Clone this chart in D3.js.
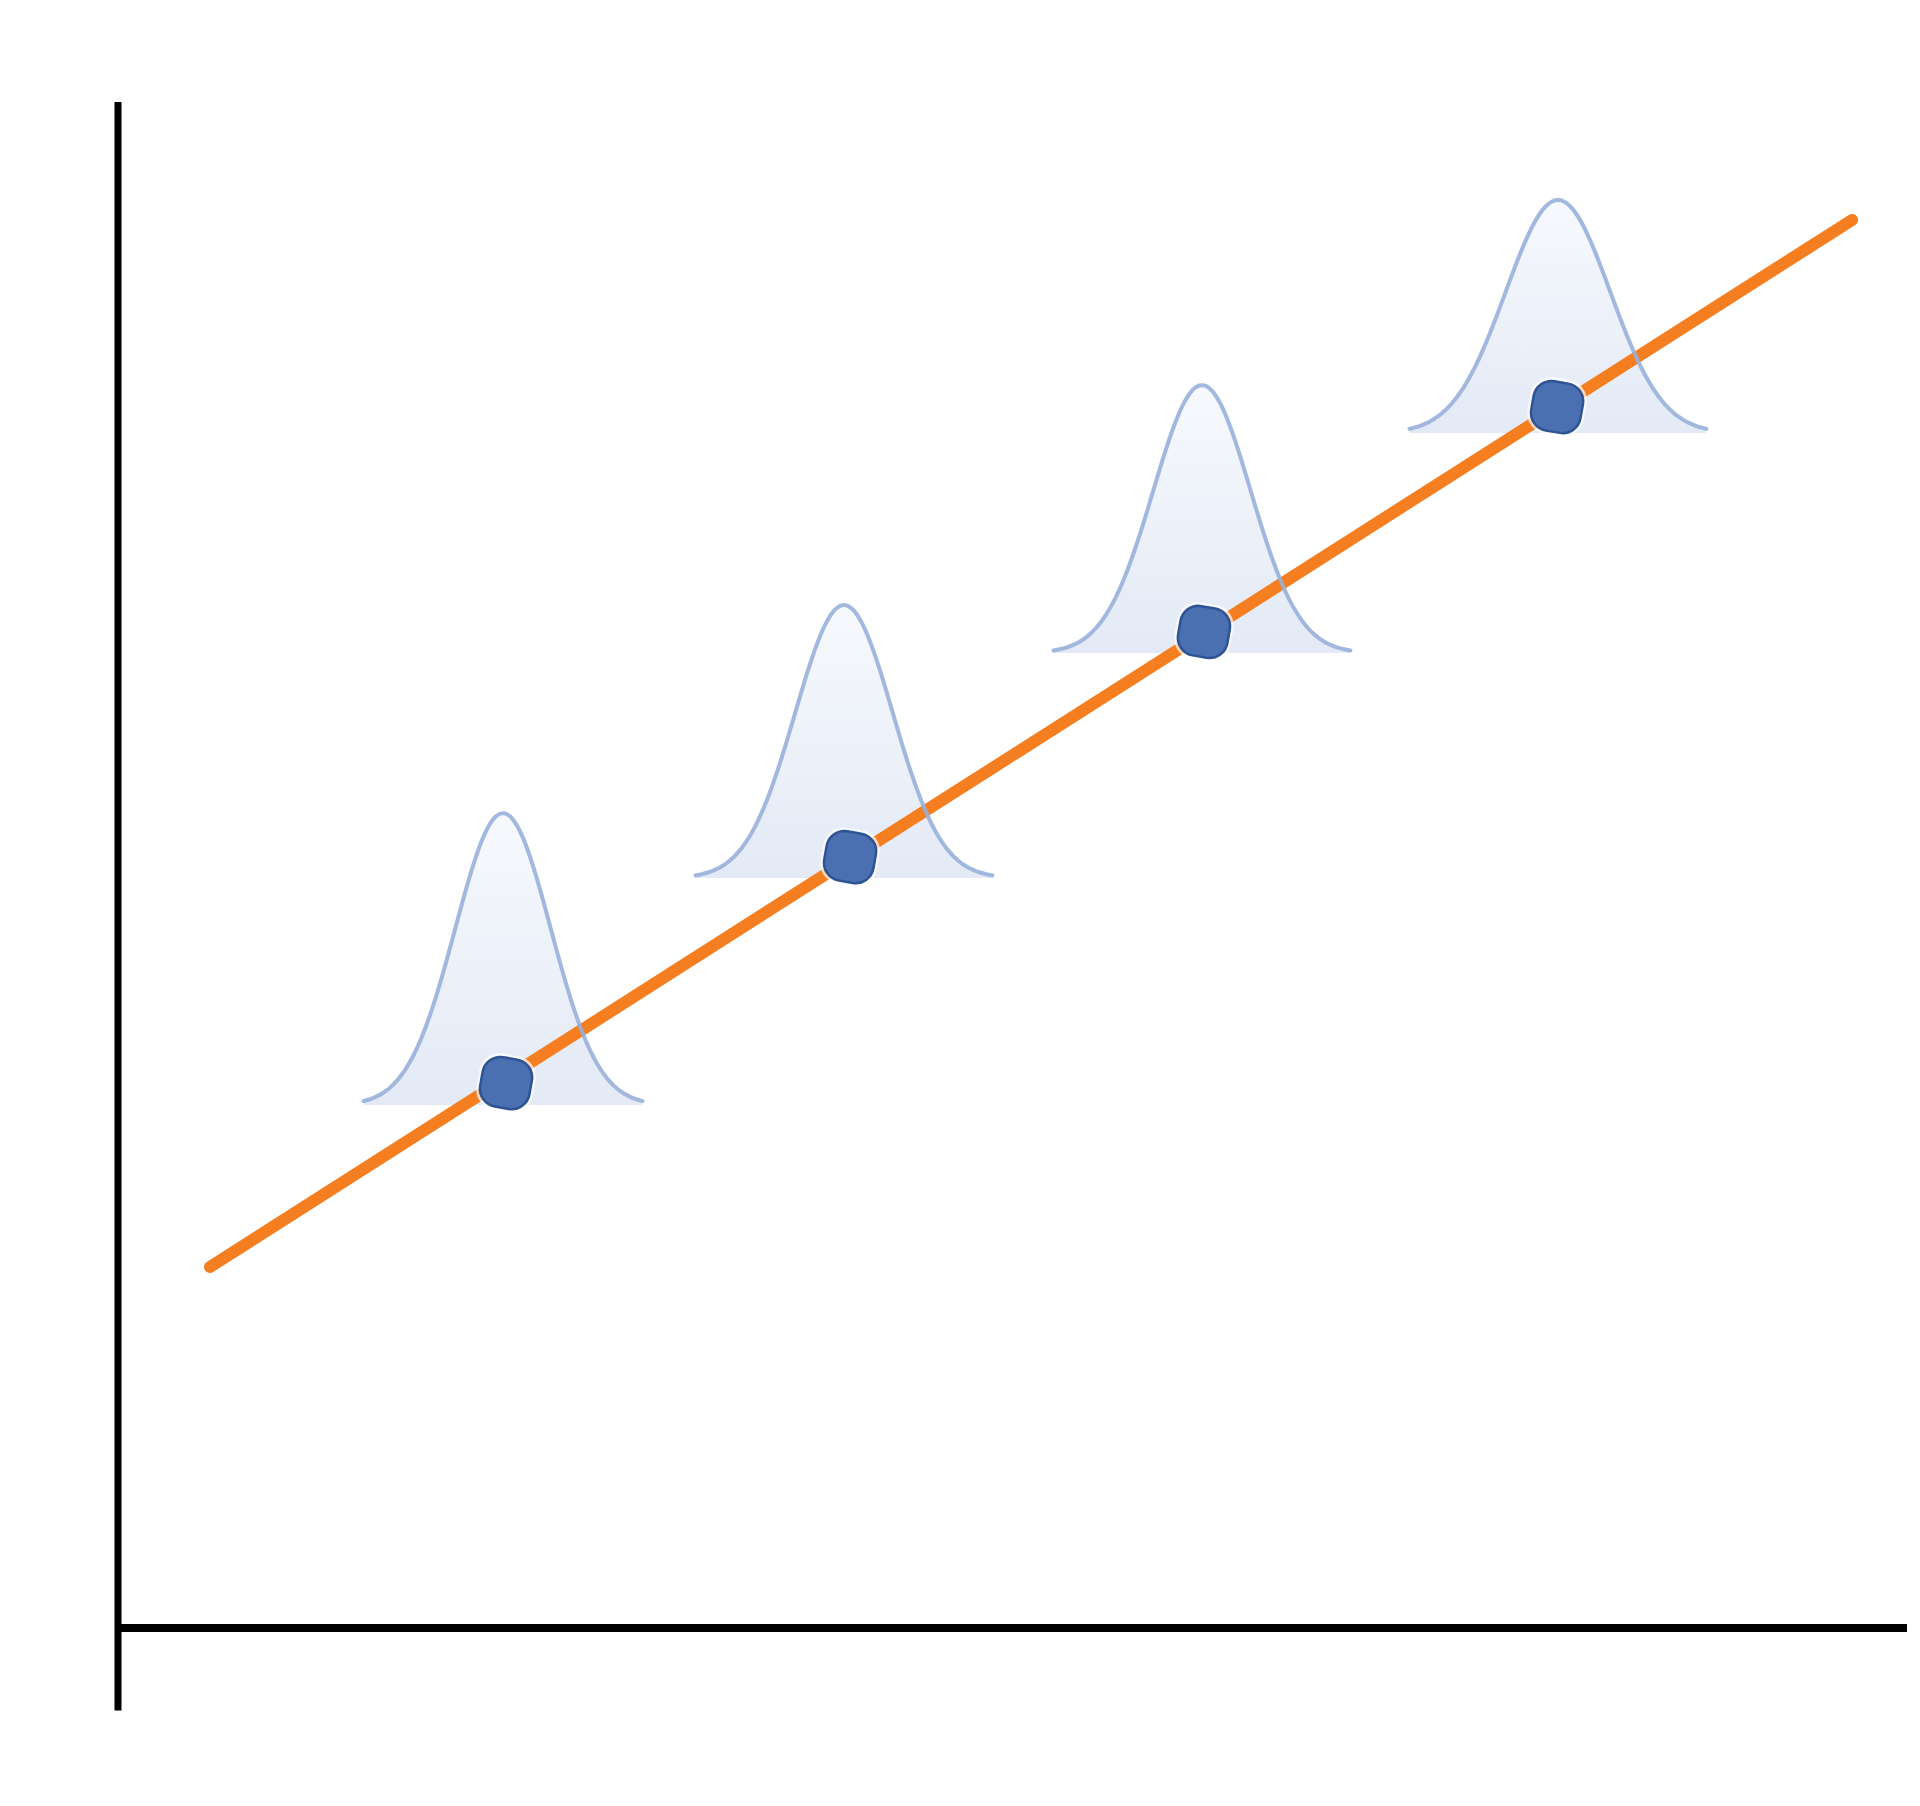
<!DOCTYPE html>
<html lang="en">
<head>
<meta charset="utf-8">
<title>Regression with normal error</title>
<script src="https://d3js.org/d3.v7.min.js"></script>
<style>
 body { margin: 0; background: #fff; }
 svg { display: block; }
</style>
</head>
<body>
<script>
// Fitted line end points (data units)
var lineX = [0.514, 9.693];
var lineY = [2.366, 9.227];

// Observed points on the line
var pointX = [2.169, 4.092, 6.070, 8.044];
var pointY = [3.571, 5.052, 6.527, 8.001];

// Normal curves drawn above each point
var bellCenter = [2.152, 4.058, 6.059, 8.049];
var bellBase = [3.427, 4.915, 6.389, 7.831];
var bellHeight = [1.913, 1.789, 1.756, 1.527];
var bellSigma = [0.266, 0.272, 0.272, 0.292];
var bellHalf = [0.78, 0.83, 0.83, 0.83];

var width = 1920, height = 1806;

var xScale = d3.scaleLinear().domain([0, 10]).range([118, 1907]);
var yScale = d3.scaleLinear().domain([0, 10]).range([1628, 102]);

var svg = d3.select("body").append("svg")
    .attr("width", width)
    .attr("height", height);

var defs = svg.append("defs");
var grad = defs.append("linearGradient")
    .attr("id", "bellFill")
    .attr("x1", 0).attr("y1", 0).attr("x2", 0).attr("y2", 1);
grad.append("stop").attr("offset", "0%").attr("stop-color", "#f7f9fd");
grad.append("stop").attr("offset", "100%").attr("stop-color", "#e3eaf6");

// build one curve per bell
var bells = bellCenter.map(function (c, i) {
    var pts = d3.range(0, 121).map(function (k) {
        var x = c - bellHalf[i] + (2 * bellHalf[i]) * k / 120;
        var z = (x - c) / bellSigma[i];
        return [x, bellBase[i] + bellHeight[i] * Math.exp(-z * z / 2)];
    });
    return { pts: pts, base: bellBase[i] };
});

var curve = d3.line()
    .x(function (d) { return xScale(d[0]); })
    .y(function (d) { return yScale(d[1]); })
    .curve(d3.curveBasis);

//Bell fills
svg.selectAll(".bellArea")
    .data(bells)
    .enter()
    .append("path")
    .attr("class", "bellArea")
    .attr("d", function (b) {
        return d3.area()
            .x(function (d) { return xScale(d[0]); })
            .y0(yScale(b.base))
            .y1(function (d) { return yScale(d[1]); })
            .curve(d3.curveBasis)(b.pts);
    })
    .style("fill", "url(#bellFill)");

//Axes
svg.append("line")
    .attr("x1", xScale(0)).attr("x2", xScale(0))
    .attr("y1", yScale(10)).attr("y2", yScale(-0.54))
    .style("stroke", "#000")
    .style("stroke-width", 7);

svg.append("line")
    .attr("x1", xScale(0)).attr("x2", xScale(10))
    .attr("y1", yScale(0)).attr("y2", yScale(0))
    .style("stroke", "#000")
    .style("stroke-width", 8);

//Fitted line
svg.append("line")
    .attr("x1", xScale(lineX[0])).attr("y1", yScale(lineY[0]))
    .attr("x2", xScale(lineX[1])).attr("y2", yScale(lineY[1]))
    .style("stroke", "#f57e20")
    .style("stroke-width", 12)
    .style("stroke-linecap", "round");

//Bell outlines
svg.selectAll(".bellLine")
    .data(bells)
    .enter()
    .append("path")
    .attr("class", "bellLine")
    .attr("d", function (b) { return curve(b.pts); })
    .style("fill", "none")
    .style("stroke", "#98b0da")
    .style("stroke-opacity", 0.9)
    .style("stroke-width", 4)
    .style("stroke-linecap", "round");

//Points
var pts = svg.selectAll(".pt")
    .data(pointX)
    .enter()
    .append("g")
    .attr("class", "pt")
    .attr("transform", function (d, i) {
        return "translate(" + xScale(d) + "," + yScale(pointY[i]) + ") rotate(10)";
    });

pts.append("rect")
    .attr("x", -27).attr("y", -27)
    .attr("width", 54).attr("height", 54)
    .attr("rx", 19).attr("ry", 19)
    .style("fill", "none")
    .style("stroke", "#ffffff")
    .style("stroke-opacity", 0.7)
    .style("stroke-width", 3);

pts.append("rect")
    .attr("x", -25).attr("y", -25)
    .attr("width", 50).attr("height", 50)
    .attr("rx", 18).attr("ry", 18)
    .style("fill", "#4a70b2")
    .style("stroke", "#2f5494")
    .style("stroke-width", 2.5);
</script>
</body>
</html>
